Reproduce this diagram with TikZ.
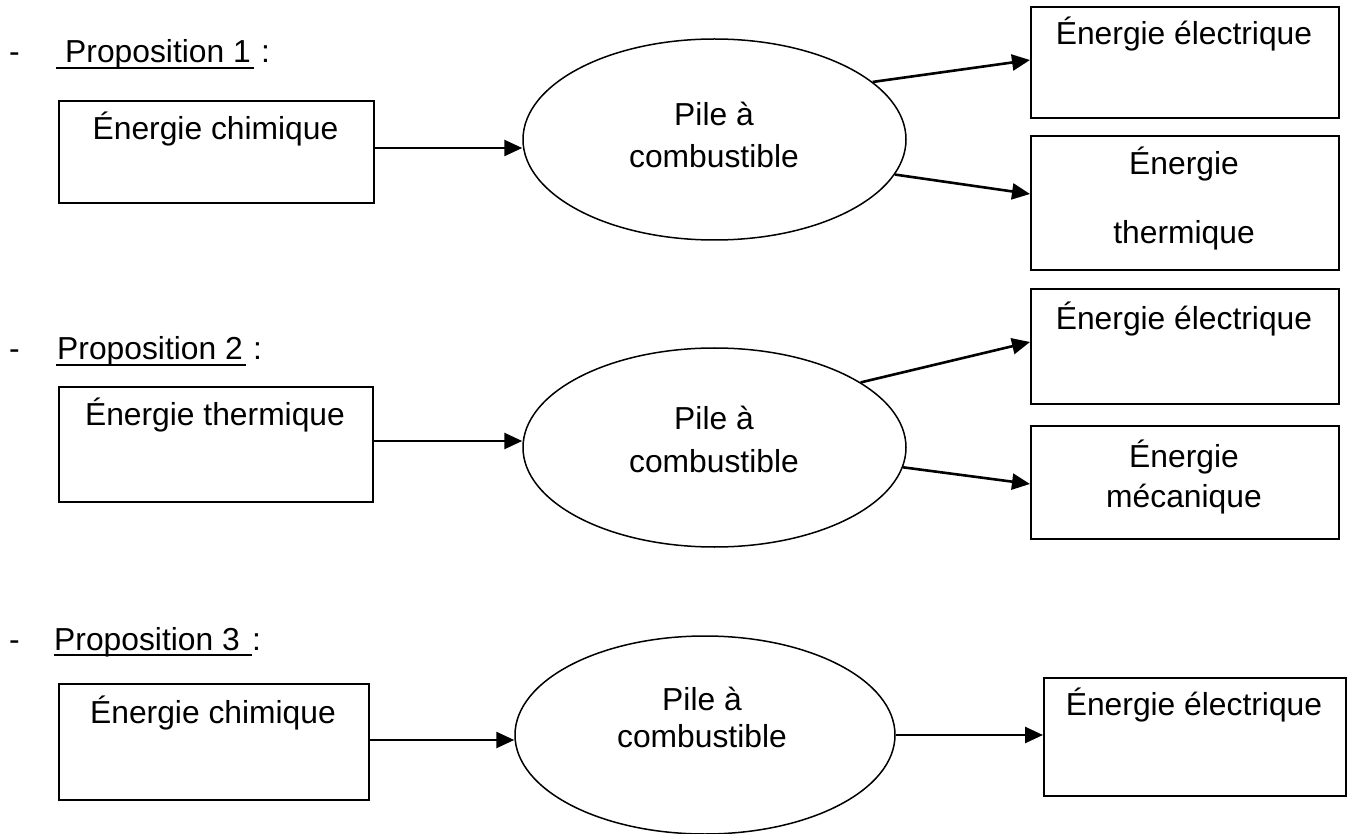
\documentclass[tikz,border=0pt]{standalone}
\usepackage{fontspec}
\setmainfont{Liberation Sans}
\usetikzlibrary{arrows.meta,shapes.geometric,calc}
\begin{document}
\begin{tikzpicture}[x=1pt,y=-1pt,
  box/.style={draw, line width=1.8pt, rectangle, inner sep=0pt, anchor=north west},
  oval/.style={draw, line width=1.5pt, ellipse, inner sep=0pt},
  txt/.style={anchor=base, inner sep=0pt, font=\fontsize{31.8}{38}\selectfont},
  ttl/.style={anchor=base west, inner sep=0pt, font=\fontsize{31.8}{38}\selectfont},
  arr/.style={-{Triangle[length=18pt,width=16pt]}, line width=2.6pt},
  ul/.style={line width=2.2pt}]
\useasboundingbox (0,0) rectangle (1350,834);

% ---------- Proposition 1 ----------
\node[ttl] (d1) at (9,63) {-};
\node[ttl] (p1) at (65,63) {Proposition 1};
\draw[ul] ($(p1.base west)+(-9,5)$) -- ($(p1.base east)+(3,5)$);
\node[ttl] (c1) at (261,63) {:};

\node[box, minimum width=315, minimum height=102] (b1) at (58,100) {};
\node[txt] (b1t) at (215.5,140) {Énergie chimique};

\node[oval, minimum width=383, minimum height=201] (e1) at (714.5,139.5) {};
\node[txt] (e1a) at (714,126) {Pile à};
\node[txt] (e1b) at (714,168) {combustible};

\node[box, minimum width=308, minimum height=111] (be1) at (1030,6) {};
\node[txt] (be1t) at (1184,45) {Énergie électrique};
\node[box, minimum width=308, minimum height=134] (bt1) at (1030,135) {};
\node[txt] (bt1a) at (1184,175) {Énergie};
\node[txt] (bt1b) at (1184,244) {thermique};

\draw[arr] (b1.east |- 0,148) -- (e1.west |- 0,148);
\draw[arr] (e1.20) -- (be1.west |- 0,60);
\draw[arr] (e1.-11) -- (bt1.west |- 0,194);

% ---------- Proposition 2 ----------
\node[ttl] (d2) at (9,360) {-};
\node[ttl] (p2) at (57,360) {Proposition 2};
\draw[ul] ($(p2.base west)+(-1,5)$) -- ($(p2.base east)+(3,5)$);
\node[ttl] (c2) at (253,360) {:};

\node[box, minimum width=314, minimum height=115] (b2) at (58,386) {};
\node[txt] (b2t) at (215,425) {Énergie thermique};

\node[oval, minimum width=383, minimum height=199] (e2) at (714.5,447.5) {};
\node[txt] (e2a) at (714,429) {Pile à};
\node[txt] (e2b) at (714,472) {combustible};

\node[box, minimum width=308, minimum height=115] (be2) at (1030,288) {};
\node[txt] (be2t) at (1184,330) {Énergie électrique};
\node[box, minimum width=308, minimum height=113] (bm2) at (1030,425) {};
\node[txt] (bm2a) at (1184,467) {Énergie};
\node[txt] (bm2b) at (1184,507) {mécanique};

\draw[arr] (b2.east |- 0,441) -- (e2.west |- 0,441);
\draw[arr] (e2.24) -- (be2.west |- 0,342);
\draw[arr] (e2.-6) -- (bm2.west |- 0,484);

% ---------- Proposition 3 ----------
\node[ttl] (d3) at (9,650) {-};
\node[ttl] (p3) at (54,650) {Proposition 3};
\draw[ul] ($(p3.base west)+(0,5)$) -- ($(p3.base east)+(12,5)$);
\node[ttl] (c3) at (252,650) {:};

\node[box, minimum width=310, minimum height=116] (b3) at (58,683) {};
\node[txt] (b3t) at (213,723) {Énergie chimique};

\node[oval, minimum width=380, minimum height=198] (e3) at (705,735) {};
\node[txt] (e3a) at (702,710) {Pile à};
\node[txt] (e3b) at (702,747) {combustible};

\node[box, minimum width=302, minimum height=118] (be3) at (1043,677) {};
\node[txt] (be3t) at (1194,715) {Énergie électrique};

\draw[arr] (b3.east |- 0,740) -- (e3.west |- 0,740);
\draw[arr] (e3.east) -- (be3.west |- e3.east);
\end{tikzpicture}
\end{document}
